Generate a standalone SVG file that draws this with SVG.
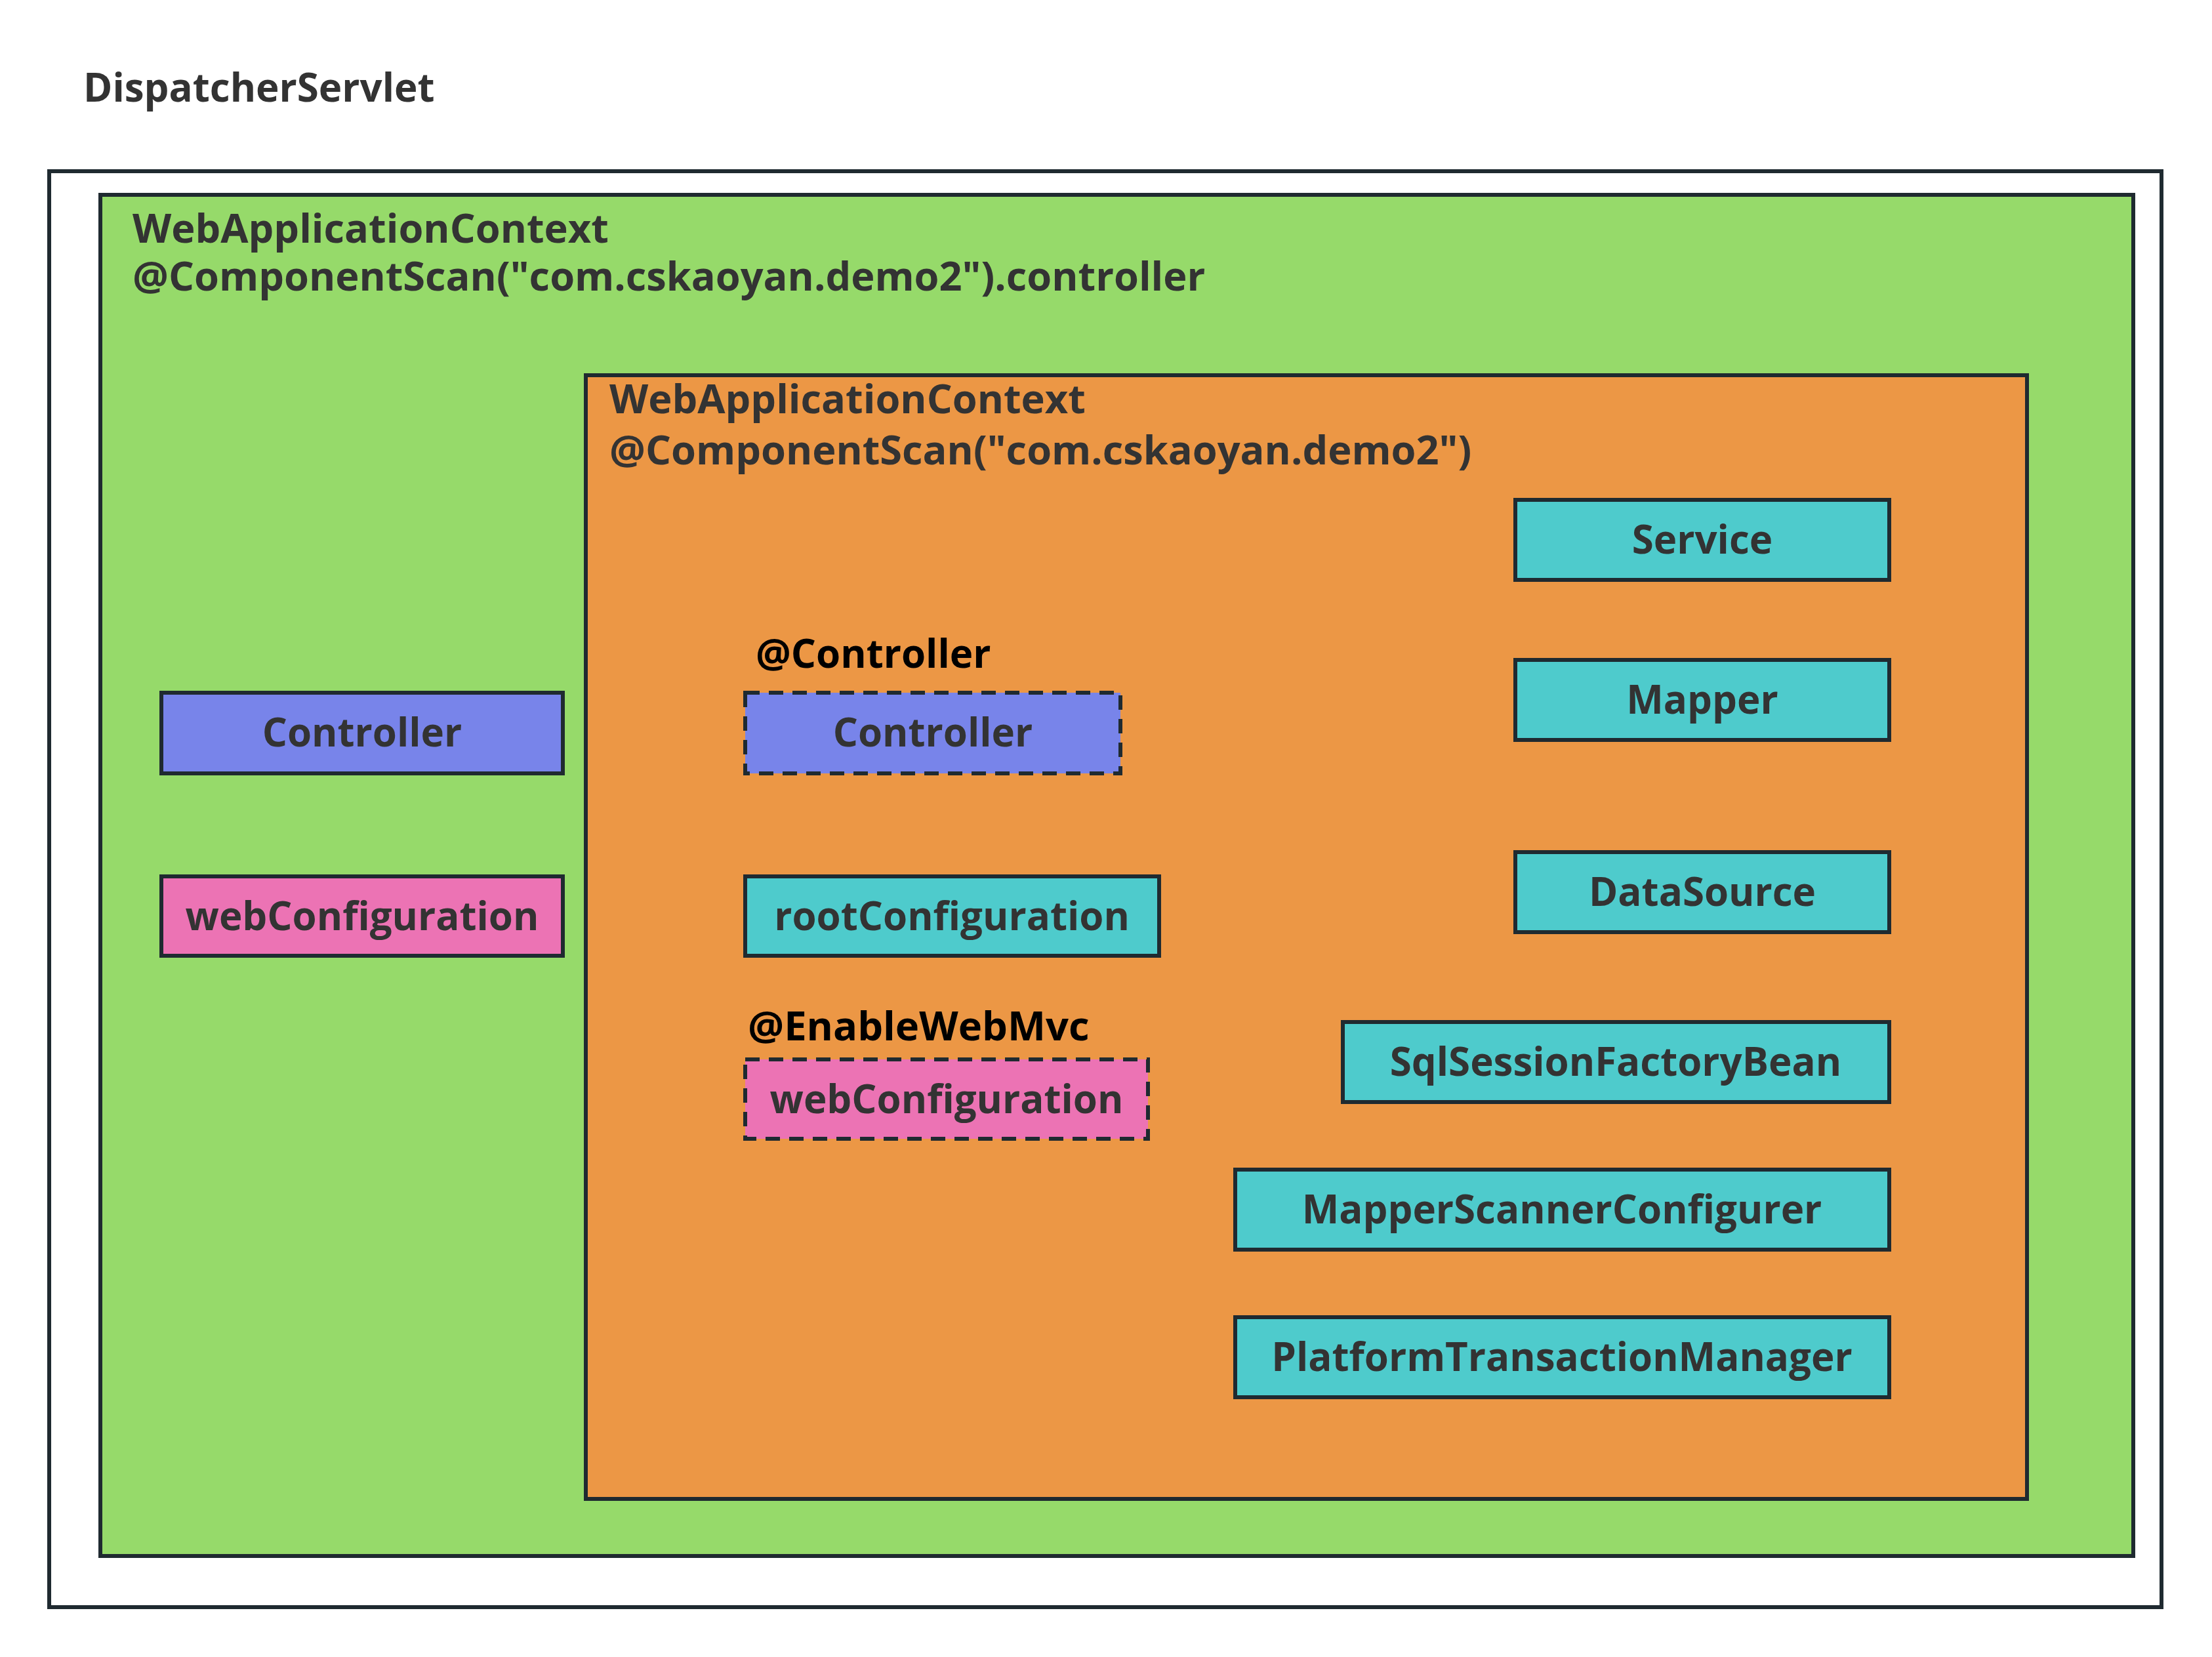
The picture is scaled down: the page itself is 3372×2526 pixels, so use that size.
<svg xmlns="http://www.w3.org/2000/svg" width="3372" height="2526" viewBox="0 0 3372 2526">
<style>
  text { font-family: "Open Sans", "Noto Sans", "Liberation Sans", sans-serif; font-weight: bold; font-size: 60px; fill: #333333; }
  .title { font-size: 61.3px; }
  .lbl { text-anchor: middle; }
  .ann { fill: #000000; }
  .box { stroke: #1f2a30; stroke-width: 6; }
  .dash { stroke-dasharray: 22 14; }
  .blue { fill: #7884EA; }
  .pink { fill: #EC73B4; }
  .cyan { fill: #4ECBCC; }
</style>
<rect width="3372" height="2526" fill="#ffffff"/>
<g id="dispatcherServlet">
  <text x="127" y="155">DispatcherServlet</text>
  <rect class="box" x="75" y="261" width="3220" height="2189" fill="#ffffff"/>
</g>
<g id="webContext">
  <rect class="box" x="153" y="297" width="3099" height="2075" fill="#96DA6A"/>
  <text class="title" x="202" y="370">WebApplicationContext<tspan x="202" y="443">@ComponentScan("com.cskaoyan.demo2").controller</tspan></text>
</g>
<g id="rootContext">
  <rect class="box" x="893" y="572" width="2197" height="1713" fill="#EC9745"/>
  <text class="title" x="929" y="630">WebApplicationContext<tspan x="929" y="708">@ComponentScan("com.cskaoyan.demo2")</tspan></text>
</g>
<g id="controllerWeb">
  <rect class="box blue" x="246" y="1056" width="612" height="123"/>
  <text class="lbl" x="552" y="1138">Controller</text>
</g>
<g id="webConfigurationWeb">
  <rect class="box pink" x="246" y="1336" width="612" height="121"/>
  <text class="lbl" x="552" y="1418">webConfiguration</text>
</g>
<g id="controllerRoot">
  <text class="ann" x="1152" y="1018">@Controller</text>
  <rect class="box dash blue" x="1136" y="1056" width="572" height="123"/>
  <text class="lbl" x="1422" y="1138">Controller</text>
</g>
<g id="rootConfiguration">
  <rect class="box cyan" x="1136" y="1336" width="631" height="121"/>
  <text class="lbl" x="1451" y="1418">rootConfiguration</text>
</g>
<g id="webConfigurationRoot">
  <text class="ann" x="1140" y="1586" style="font-size:61.5px">@EnableWebMvc</text>
  <rect class="box dash pink" x="1136" y="1615" width="614" height="121"/>
  <text class="lbl" x="1443" y="1697">webConfiguration</text>
</g>
<g id="service">
  <rect class="box cyan" x="2310" y="762" width="570" height="122"/>
  <text class="lbl" x="2595" y="844">Service</text>
</g>
<g id="mapper">
  <rect class="box cyan" x="2310" y="1006" width="570" height="122"/>
  <text class="lbl" x="2595" y="1088">Mapper</text>
</g>
<g id="dataSource">
  <rect class="box cyan" x="2310" y="1299" width="570" height="122"/>
  <text class="lbl" x="2595" y="1381">DataSource</text>
</g>
<g id="sqlSessionFactoryBean">
  <rect class="box cyan" x="2047" y="1558" width="833" height="122"/>
  <text class="lbl" x="2463" y="1640">SqlSessionFactoryBean</text>
</g>
<g id="mapperScannerConfigurer">
  <rect class="box cyan" x="1883" y="1783" width="997" height="122"/>
  <text class="lbl" x="2381" y="1865">MapperScannerConfigurer</text>
</g>
<g id="platformTransactionManager">
  <rect class="box cyan" x="1883" y="2008" width="997" height="122"/>
  <text class="lbl" x="2381" y="2090">PlatformTransactionManager</text>
</g>
<g id="connectors"></g>
</svg>
